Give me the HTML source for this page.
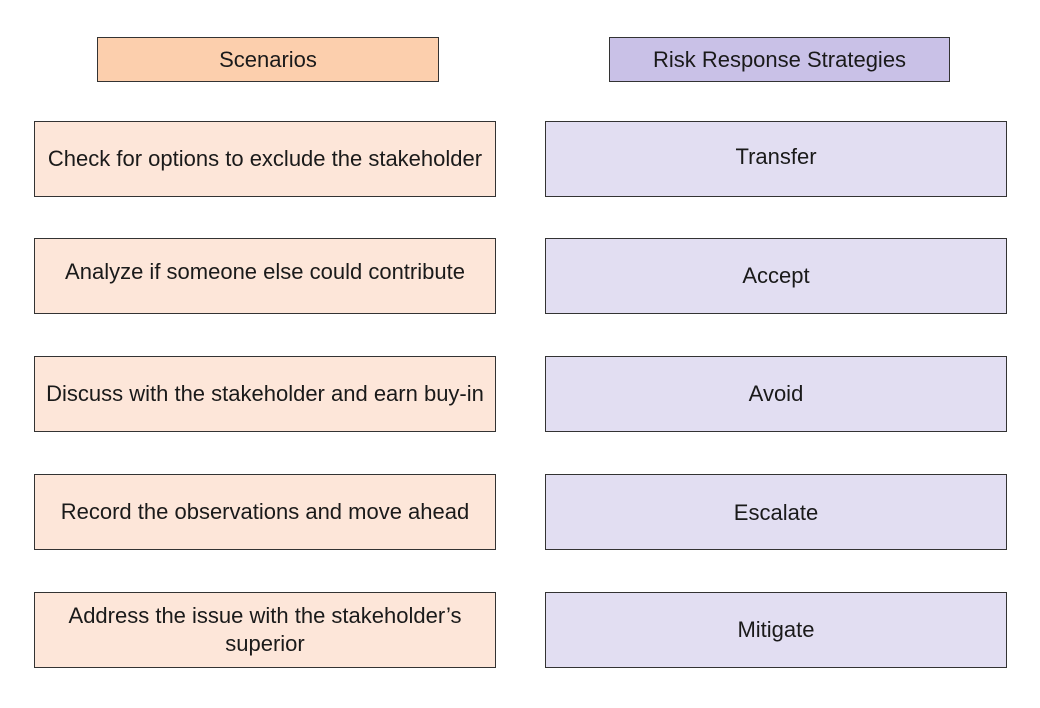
<!DOCTYPE html>
<html><head><style>
body{margin:0;width:1040px;height:708px;background:#fff;position:relative;font-family:"Liberation Sans",sans-serif;font-size:22px;color:#1a1a1a}
.b{position:absolute;box-sizing:border-box;border:1.5px solid #333;display:flex;align-items:center;justify-content:center;text-align:center;line-height:28px}
.ho{left:97px;top:37px;width:342px;height:45px;background:#fccfad}
.hp{left:609px;top:37px;width:341px;height:45px;background:#c9c1e7}
.l{left:34px;width:462px;height:76px;background:#fde6d9}
.r{left:545px;width:462px;height:76px;background:#e2def2}
</style></head><body>
<div class="b ho">Scenarios</div>
<div class="b hp">Risk Response Strategies</div>
<div class="b l" style="top:121px">Check for options to exclude the stakeholder</div>
<div class="b l" style="top:238px;padding-bottom:8px">Analyze if someone else could contribute</div>
<div class="b l" style="top:356px">Discuss with the stakeholder and earn buy-in</div>
<div class="b l" style="top:474px">Record the observations and move ahead</div>
<div class="b l" style="top:592px">Address the issue with the stakeholder’s<br>superior</div>
<div class="b r" style="top:121px;padding-bottom:4px">Transfer</div>
<div class="b r" style="top:238px">Accept</div>
<div class="b r" style="top:356px">Avoid</div>
<div class="b r" style="top:474px;padding-top:2px">Escalate</div>
<div class="b r" style="top:592px">Mitigate</div>
</body></html>
